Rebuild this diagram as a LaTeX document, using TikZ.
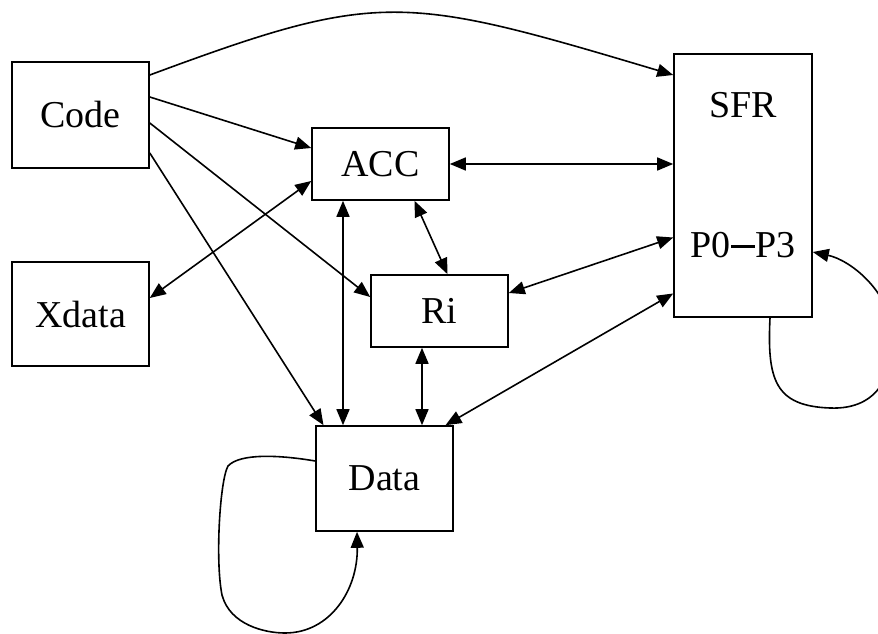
\documentclass[tikz,border=0pt]{standalone}
\usepackage{fontspec}
\setmainfont{Liberation Serif}
\usetikzlibrary{arrows.meta,calc}

\tikzset{
  tip/.tip={Triangle[length=16pt,width=13pt]},
  unit/.style={draw, line width=1.6pt, minimum width=137pt, inner sep=0pt,
               font=\fontsize{38}{44}\selectfont},
  lbl/.style={inner sep=0pt, font=\fontsize{38}{44}\selectfont},
  link/.style={line width=1.6pt, -tip},
  dlink/.style={line width=1.6pt, tip-tip},
  loop/.style={line width=1.6pt}
}

\begin{document}
\begin{tikzpicture}[x=1pt, y=-1pt]
\useasboundingbox (0,0) rectangle (878,634);

% memory spaces
\node[unit, minimum height=106pt] (code)  at (80.5,115)  {Code};
\node[unit, minimum height=104pt] (xdata) at (80.5,314)  {Xdata};
\node[unit, minimum height=72pt]  (acc)   at (380.5,164) {ACC};
\node[unit, minimum height=72pt]  (ri)    at (439.5,311) {Ri};
\node[unit, minimum height=105pt] (data)  at (384.5,478.5) {Data};
\node[unit, minimum width=138pt, minimum height=263pt] (sfr) at (743,185.5) {};
\node[lbl] (sfrname) at (743,105) {SFR};
\node[lbl] (ports)   at (743,245) {P0\kern1pt\rule[0.26em]{0.62em}{2.8pt}\kern1pt P3};

% vertical link columns
\coordinate (colA) at (343,0);
\coordinate (colB) at (422,0);

% transfers out of Code
\draw[link] ([yshift=40pt]code.east) .. controls (379,-10) and (402,-6) .. ([yshift=110.5pt]sfr.west);
\draw[link] ([yshift=18pt]code.east) -- ([yshift=16pt]acc.west);
\draw[link] ([yshift=-8pt]code.east) -- ([yshift=14pt]ri.west);
\draw[link] ([yshift=-38pt]code.east) -- ([xshift=-61pt]data.north);

% two-way transfers
\draw[dlink] ([yshift=16pt]xdata.east) -- ([yshift=-17pt]acc.west);
\draw[dlink] (acc.south -| colA) -- (data.north -| colA);
\draw[dlink] ([xshift=34pt]acc.south) -- ([xshift=8pt]ri.north);
\draw[dlink] (acc.east) -- (sfr.west |- acc.east);
\draw[dlink] ([yshift=18pt]ri.east) -- ([yshift=-52pt]sfr.west);
\draw[dlink] (ri.south -| colB) -- (data.north -| colB);
\draw[dlink] ([xshift=61pt]data.north) -- ([yshift=-108pt]sfr.west);

% transfers within SFR
\draw[loop, -tip]
  ([xshift=27pt]sfr.south) .. controls (767,380) and (775,406) .. (830,408)
  .. controls (880,410) and (895,372) .. (892,330)
  .. controls (888,290) and (850,260) .. ([yshift=-66.5pt]sfr.east);

% transfers within Data
\draw[loop, -tip]
  ([yshift=17.5pt]data.west) .. controls (280,455) and (240,453) .. (228,466)
  .. controls (220,480) and (215,560) .. (222,595)
  .. controls (230,625) and (265,633) .. (285,633)
  .. controls (330,633) and (358,590) .. ([xshift=-27.5pt]data.south);
\end{tikzpicture}
\end{document}
